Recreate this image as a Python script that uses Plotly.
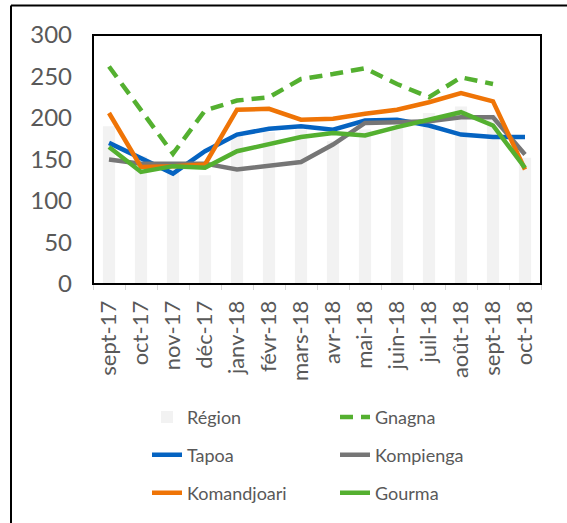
import plotly.graph_objects as go

months = ["sept-17", "oct-17", "nov-17", "déc-17", "janv-18", "févr-18", "mars-18",
          "avr-18", "mai-18", "juin-18", "juil-18", "août-18", "sept-18", "oct-18"]
region = [190, 154, 145, 131, 179, 183, 186, 172, 186, 188, 206, 214, 204, 152]
gnagna = [262, 210, 157, 209, 221, 225, 247, 253, 260, 241, 225, 249, 241, None]
tapoa = [170, 152, 133, 160, 180, 187, 190, 186, 197, 198, 191, 180, 177, 177]
kompienga = [150, 145, 145, 145, 138, 143, 147, 168, 194, 195, 196, 201, 201, 156]
komandjoari = [206, 141, 142, 144, 210, 211, 198, 199, 205, 210, 219, 230, 220, 138]
gourma = [165, 135, 142, 140, 160, 168, 177, 182, 179, 189, 198, 207, 191, 140]

W, H = 567, 523
L, R, T, B = 93, 26, 35, 234
PW, PH = W - L - R, H - T - B


def px(sx):
    return (sx - L) / PW


def py(sy):
    return (H - B - sy) / PH


FONT = "Lato"
TXT = "#595959"
LW = 4.5

fig = go.Figure()
fig.add_trace(go.Bar(x=months, y=region, name="Région", marker=dict(color="#f2f2f2", line=dict(width=0)),
                     legend="legend", legendgroup="a"))
fig.add_trace(go.Scatter(x=months, y=gnagna, name="Gnagna", mode="lines",
                         line=dict(color="#54b030", width=LW, dash="13px,8px"),
                         legend="legend2", legendgroup="b"))
fig.add_trace(go.Scatter(x=months, y=tapoa, name="Tapoa", mode="lines",
                         line=dict(color="#0563c1", width=LW), legend="legend", legendgroup="c"))
fig.add_trace(go.Scatter(x=months, y=kompienga, name="Kompienga", mode="lines",
                         line=dict(color="#767676", width=LW), legend="legend2", legendgroup="d"))
fig.add_trace(go.Scatter(x=months, y=komandjoari, name="Komandjoari", mode="lines",
                         line=dict(color="#ef7406", width=LW), legend="legend", legendgroup="e"))
fig.add_trace(go.Scatter(x=months, y=gourma, name="Gourma", mode="lines",
                         line=dict(color="#54b030", width=LW), legend="legend2", legendgroup="f"))

legend_common = dict(
    orientation="v", yanchor="top", xanchor="left",
    font=dict(family=FONT, size=18, color=TXT),
    tracegroupgap=11.5, bgcolor="rgba(0,0,0,0)", borderwidth=0,
)

fig.update_layout(
    width=W, height=H,
    margin=dict(l=L, r=R, t=T, b=B, pad=0),
    paper_bgcolor="white", plot_bgcolor="white",
    bargap=0.62,
    font=dict(family=FONT, color=TXT),
    legend=dict(x=px(147), y=py(406), **legend_common),
    legend2=dict(x=px(335), y=py(406), **legend_common),
    xaxis=dict(
        type="category", range=[-0.5, 13.5], tickangle=-90,
        showline=True, linecolor="#d9d9d9", linewidth=1,
        ticks="outside", tickson="boundaries", ticklen=5, tickcolor="#d9d9d9",
        ticklabelstandoff=7,
        tickfont=dict(family=FONT, size=22, color=TXT), showgrid=False,
    ),
    yaxis=dict(
        range=[0, 300], dtick=50, tick0=0, showgrid=False, zeroline=False,
        showline=False, ticks="", ticklabelstandoff=20,
        tickfont=dict(family=FONT, size=24, color=TXT),
    ),
    shapes=[
        dict(type="rect", xref="paper", yref="paper", x0=0, x1=1, y0=0, y1=1,
             line=dict(color="black", width=2), layer="above"),
        dict(type="line", xref="paper", yref="paper", x0=px(11), x1=px(11), y0=py(5), y1=py(540),
             line=dict(color="black", width=2)),
        dict(type="line", xref="paper", yref="paper", x0=px(11), x1=px(580), y0=py(5), y1=py(5),
             line=dict(color="black", width=2)),
    ],
)

fig.write_html("out.html", config={"displayModeBar": False},
               post_script="document.body.style.margin='0';")
